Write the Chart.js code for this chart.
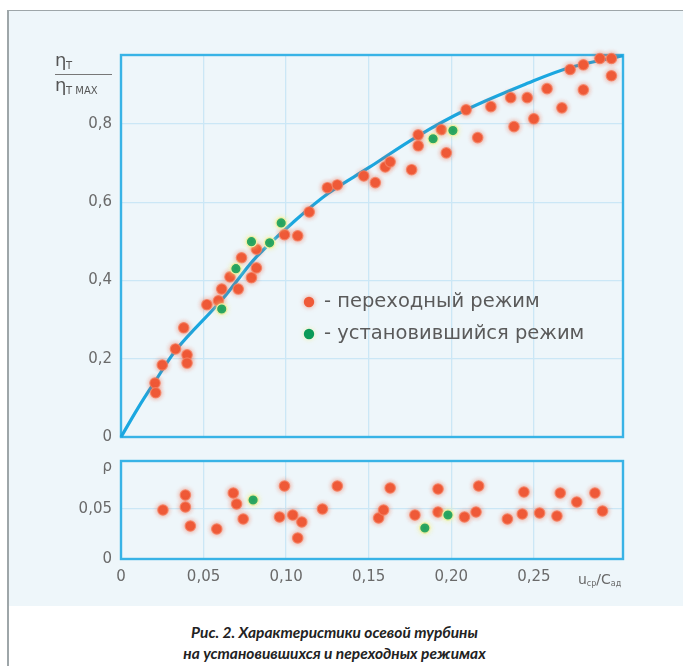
<!DOCTYPE html>
<html><head><meta charset="utf-8">
<script src="https://cdn.jsdelivr.net/npm/chart.js@4/dist/chart.umd.min.js"></script>
<style>
html,body{margin:0;padding:0;background:#fff;width:683px;height:666px;overflow:hidden}
#panel{position:absolute;left:7px;top:10px;width:690px;height:595px;background:#eef6fa;border-top:1.5px solid #9ea6a9}
#vline{position:absolute;left:7px;top:10px;width:1.5px;height:656px;background:#9ea6a9}
canvas{position:absolute;left:0}
#c1{top:0}
#c2{top:450px}
.cap{position:absolute;left:-7px;width:683px;text-align:center;font:italic bold 15.5px "Lato";color:#222}
</style></head>
<body>
<div id="panel"></div><div id="vline"></div>
<canvas id="c1" width="683" height="450"></canvas>
<canvas id="c2" width="683" height="160"></canvas>
<div class="cap" style="top:623px">Рис. 2. Характеристики осевой турбины</div>
<div class="cap" style="top:644px">на установившихся и переходных режимах</div>
<script>
// ---- data ----
const xTicks = [0, 0.05, 0.10, 0.15, 0.20, 0.25];
const xTickLabels = ['0', '0,05', '0,10', '0,15', '0,20', '0,25'];
const etaTicks = [0, 0.2, 0.4, 0.6, 0.8];
const etaTickLabels = ['0', '0,2', '0,4', '0,6', '0,8'];
const rhoTicks = [0, 0.05, 0.092];
const rhoTickLabels = ['0', '0,05', 'ρ'];
const legendLabels = ['- переходный режим', '- установившийся режим'];

const curveX   = [0, 0.010, 0.020, 0.034, 0.061, 0.082, 0.106, 0.126, 0.150, 0.179, 0.209, 0.247, 0.272, 0.304];
const curveEta = [0, 0.072, 0.138, 0.226, 0.350, 0.460, 0.555, 0.624, 0.688, 0.767, 0.836, 0.905, 0.944, 0.974];

const transX   = [0.0206,0.021,0.025,0.033,0.038,0.040,0.040,0.052,0.059,0.061,0.066,0.071,0.073,0.079,0.082,0.082,0.099,0.107,0.114,0.125,0.131,0.147,0.154,0.160,0.163,0.176,0.180,0.180,0.194,0.197,0.209,0.216,0.224,0.236,0.238,0.246,0.250,0.258,0.267,0.272,0.280,0.280,0.290,0.297,0.297];
const transEta = [0.138,0.113,0.184,0.225,0.279,0.210,0.189,0.338,0.348,0.378,0.409,0.378,0.458,0.407,0.432,0.480,0.517,0.514,0.575,0.637,0.644,0.667,0.650,0.690,0.703,0.683,0.772,0.744,0.785,0.726,0.836,0.765,0.844,0.867,0.793,0.867,0.813,0.890,0.841,0.939,0.951,0.887,0.967,0.967,0.923];
const steadyX   = [0.061,0.0696,0.079,0.090,0.097,0.189,0.201];
const steadyEta = [0.327,0.430,0.499,0.496,0.547,0.762,0.783];

const transRhoX = [0.0254,0.039,0.039,0.042,0.058,0.068,0.070,0.074,0.096,0.099,0.104,0.1095,0.107,0.122,0.131,0.156,0.159,0.163,0.178,0.192,0.192,0.208,0.215,0.2166,0.234,0.243,0.244,0.2535,0.264,0.266,0.276,0.287,0.2916];
const transRho  = [0.049,0.064,0.052,0.033,0.030,0.066,0.055,0.040,0.042,0.073,0.044,0.037,0.021,0.050,0.073,0.041,0.049,0.071,0.044,0.070,0.047,0.042,0.047,0.073,0.040,0.045,0.067,0.046,0.043,0.066,0.057,0.066,0.048];
const steadyRhoX = [0.080,0.184,0.198];
const steadyRho  = [0.059,0.031,0.044];

// ---- styles ----
const ORANGE = '#ef5a38', GREEN = '#0b9a58', BLUE = '#1ba7e0';
const FRAME = '#38b3e6', GRID = '#cbe7f6', TICK = '#6a6a6a';
const FONT = '"DejaVu Sans"';

const zip = (xs, ys) => xs.map((x, i) => ({x, y: ys[i]}));

const framePlugin = {
  id: 'frame',
  beforeDatasetsDraw(chart) {
    const {ctx, chartArea: a} = chart;
    ctx.save(); ctx.strokeStyle = FRAME; ctx.lineWidth = 2.4;
    ctx.strokeRect(a.left, a.top, a.right - a.left, a.bottom - a.top);
    ctx.restore();
  },
  beforeDatasetDraw(chart, args) {
    const ds = chart.data.datasets[args.index];
    if (ds.glow) { chart.ctx.save(); chart.ctx.shadowColor = ds.glow; chart.ctx.shadowBlur = 5; }
  },
  afterDatasetDraw(chart, args) {
    const ds = chart.data.datasets[args.index];
    if (ds.glow) chart.ctx.restore();
  }
};

const zeroPad = s => { s.paddingTop = 0; s.paddingBottom = 0; s.paddingLeft = 0; s.paddingRight = 0; };

function xScale(showLabels) {
  return {
    type: 'linear', min: 0, max: 0.304,
    afterBuildTicks: s => { s.ticks = xTicks.map(v => ({value: v})); },
    afterFit: s => { s.height = showLabels ? 51 : 0; zeroPad(s); },
    grid: {color: GRID, lineWidth: 1.3, drawTicks: false},
    border: {display: false},
    ticks: {display: showLabels, autoSkip: false, maxRotation: 0, padding: 9,
      color: TICK, font: {family: FONT, size: 15},
      callback: (v, i) => xTickLabels[i]}
  };
}
function yScale(max, tickVals, tickLabels, gridFor) {
  return {
    type: 'linear', min: 0, max: max,
    afterBuildTicks: s => { s.ticks = tickVals.map(v => ({value: v})); },
    afterFit: s => { s.width = 121; zeroPad(s); },
    grid: {color: gridFor || GRID, lineWidth: 1.3, drawTicks: false},
    border: {display: false},
    ticks: {autoSkip: false, padding: 9, color: TICK, font: {family: FONT, size: 15},
      callback: (v, i) => tickLabels[i]}
  };
}

const pointStyle = (c, border, glow) => ({
  backgroundColor: c, borderColor: border, borderWidth: 1.2, pointRadius: 5.2, glow: glow
});

const topDecor = {
  id: 'topDecor',
  afterDraw(chart) {
    const ctx = chart.ctx;
    ctx.save();
    ctx.fillStyle = '#555'; ctx.textBaseline = 'alphabetic'; ctx.textAlign = 'left';
    ctx.font = '18px ' + FONT; ctx.fillText('η', 55, 66);
    ctx.font = '10px ' + FONT; ctx.fillText('T', 66, 69);
    ctx.strokeStyle = '#777'; ctx.lineWidth = 1;
    ctx.beginPath(); ctx.moveTo(55, 74.5); ctx.lineTo(112, 74.5); ctx.stroke();
    ctx.font = '18px ' + FONT; ctx.fillText('η', 55, 91);
    ctx.font = '10px ' + FONT; ctx.fillText('T MAX', 66, 94);
    const items = [[ORANGE, legendLabels[0], 302], [GREEN, legendLabels[1], 334]];
    items.forEach(([c, t, y]) => {
      ctx.save(); ctx.shadowColor = c === ORANGE ? 'rgba(239,90,56,0.6)' : 'rgba(240,240,150,0.8)'; ctx.shadowBlur = 5;
      ctx.fillStyle = c; ctx.beginPath(); ctx.arc(309, y, 5.2, 0, Math.PI * 2); ctx.fill(); ctx.restore();
      ctx.fillStyle = '#5a5a5a'; ctx.font = '19.5px ' + FONT; ctx.textBaseline = 'middle';
      ctx.fillText(t, 324, y);
    });
    ctx.restore();
  }
};

new Chart(document.getElementById('c1'), {
  type: 'scatter',
  data: {datasets: [
    Object.assign({label: 'steady', data: zip(steadyX, steadyEta)}, pointStyle(GREEN, '#f4f1a6', 'rgba(240,240,150,0.8)')),
    Object.assign({label: 'transient', data: zip(transX, transEta)}, pointStyle(ORANGE, 'rgba(245,130,100,0.8)', 'rgba(239,90,56,0.6)')),
    {label: 'curve', data: zip(curveX, curveEta), showLine: true, borderColor: BLUE, borderWidth: 3.2,
     pointRadius: 0, tension: 0.35, fill: false}
  ]},
  options: {
    responsive: false, animation: false, devicePixelRatio: 1,
    layout: {padding: {left: 0, right: 60, top: 55, bottom: 13}},
    plugins: {legend: {display: false}, tooltip: {enabled: false}},
    datasets: {scatter: {clip: false}},
    scales: {x: xScale(false), y: yScale(0.976, etaTicks, etaTickLabels)}
  },
  plugins: [framePlugin, topDecor]
});

const botDecor = {
  id: 'botDecor',
  afterDraw(chart) {
    const ctx = chart.ctx;
    ctx.save(); ctx.fillStyle = '#6a6a6a'; ctx.textBaseline = 'alphabetic'; ctx.textAlign = 'left';
    let x = 578; const y = 134;
    ctx.font = '14px ' + FONT; ctx.fillText('u', x, y); x += ctx.measureText('u').width;
    ctx.font = '8px ' + FONT; ctx.fillText('ср', x, y + 2); x += ctx.measureText('ср').width;
    ctx.font = '14px ' + FONT; ctx.fillText('/C', x, y); x += ctx.measureText('/C').width;
    ctx.font = '8px ' + FONT; ctx.fillText('ад', x, y + 2);
    ctx.restore();
  }
};

new Chart(document.getElementById('c2'), {
  type: 'scatter',
  data: {datasets: [
    Object.assign({label: 'steady', data: zip(steadyRhoX, steadyRho)}, pointStyle(GREEN, '#f4f1a6', 'rgba(240,240,150,0.8)')),
    Object.assign({label: 'transient', data: zip(transRhoX, transRho)}, pointStyle(ORANGE, 'rgba(245,130,100,0.8)', 'rgba(239,90,56,0.6)'))
  ]},
  options: {
    responsive: false, animation: false, devicePixelRatio: 1,
    layout: {padding: {left: 0, right: 60, top: 11, bottom: 0}},
    plugins: {legend: {display: false}, tooltip: {enabled: false}},
    datasets: {scatter: {clip: false}},
    scales: {x: xScale(true), y: yScale(0.098, rhoTicks, rhoTickLabels, c => c.index === 2 ? 'rgba(0,0,0,0)' : GRID)}
  },
  plugins: [framePlugin, botDecor]
});
</script>
</body></html>
